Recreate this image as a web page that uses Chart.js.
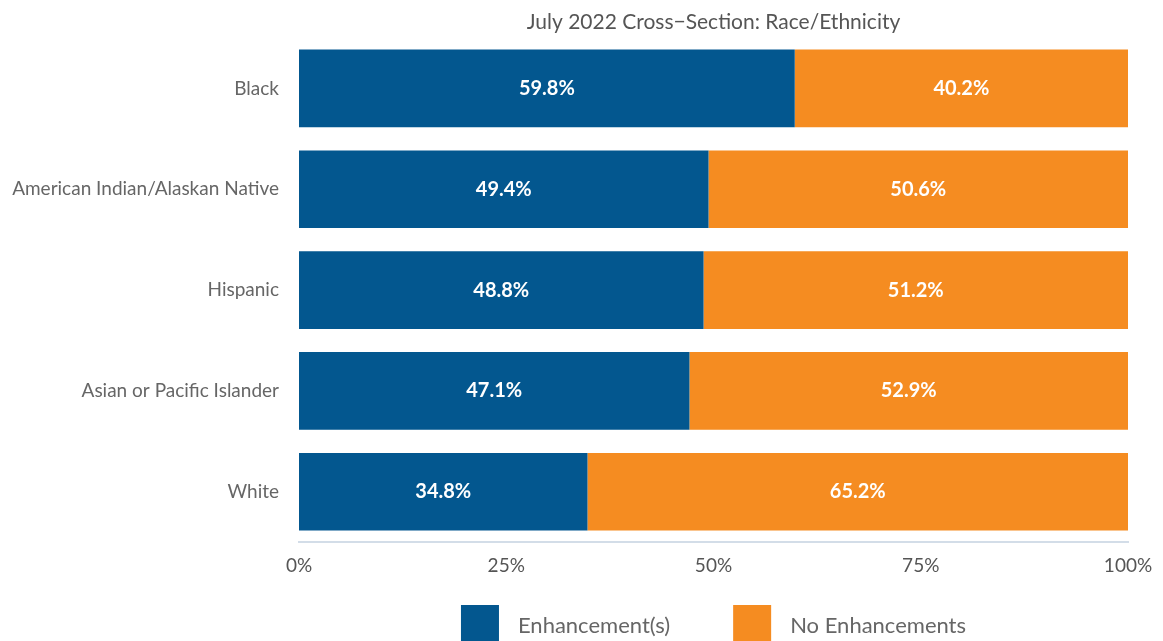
<!DOCTYPE html>
<html>
<head>
<meta charset="utf-8">
<script src="https://cdn.jsdelivr.net/npm/chart.js@4/dist/chart.umd.min.js"></script>
<style>
  html,body{margin:0;padding:0;background:#fff;}
  #wrap{width:1163px;height:641px;position:relative;}
</style>
</head>
<body>
<div id="wrap"><canvas id="grafico"></canvas></div>
<script>
const categorias = ["Black", "American Indian/Alaskan Native", "Hispanic", "Asian or Pacific Islander", "White"];
const comEnhancement = [59.8, 49.4, 48.8, 47.1, 34.8];
const semEnhancement = [40.2, 50.6, 51.2, 52.9, 65.2];
const titulo = "July 2022 Cross\u2212Section: Race/Ethnicity";

const AZUL = "#03578f";
const LARANJA = "#f58c21";
const FONTE = "Lato, 'Open Sans', sans-serif";

// rótulos dentro das barras
const rotulosBarras = {
    id: "rotulosBarras",
    afterDatasetsDraw(chart){
        const ctx = chart.ctx;
        ctx.save();
        ctx.fillStyle = "#ffffff";
        ctx.font = "bold 20px " + FONTE;
        ctx.textAlign = "center";
        ctx.textBaseline = "middle";
        chart.data.datasets.forEach((ds, i)=>{
            chart.getDatasetMeta(i).data.forEach((bar, j)=>{
                const cx = (bar.x + bar.base) / 2;
                ctx.fillText(ds.data[j].toFixed(1) + "%", cx, bar.y);
            });
        });
        ctx.restore();
    }
};

// título e legenda centrados na área do gráfico
const tituloLegenda = {
    id: "tituloLegenda",
    afterDraw(chart){
        const ctx = chart.ctx;
        const area = chart.chartArea;
        const meio = (area.left + area.right) / 2;
        ctx.save();
        ctx.fillStyle = "#555555";
        ctx.font = "21px " + FONTE;
        ctx.textAlign = "center";
        ctx.textBaseline = "middle";
        ctx.fillText(titulo, meio, 22);

        ctx.font = "22px " + FONTE;
        ctx.textAlign = "left";
        const caixa = 38, gapTexto = 19, gapItem = 63;
        const itens = chart.data.datasets.map(ds=>({ label: ds.label, cor: ds.backgroundColor, w: ctx.measureText(ds.label).width }));
        const total = itens.reduce((s, it)=>s + caixa + gapTexto + it.w, 0) + gapItem * (itens.length - 1);
        let x = meio - total / 2;
        const yTop = 605;
        itens.forEach(it=>{
            ctx.fillStyle = it.cor;
            ctx.fillRect(x, yTop, caixa, caixa);
            ctx.fillStyle = "#666666";
            ctx.fillText(it.label, x + caixa + gapTexto, 626);
            x += caixa + gapTexto + it.w + gapItem;
        });
        ctx.restore();
    }
};

new Chart(document.getElementById("grafico"), {
    type: "bar",
    data: {
        labels: categorias,
        datasets: [
            { label: "Enhancement(s)", data: comEnhancement, backgroundColor: AZUL, barPercentage: 0.77, categoryPercentage: 1.0 },
            { label: "No Enhancements", data: semEnhancement, backgroundColor: LARANJA, barPercentage: 0.77, categoryPercentage: 1.0 }
        ]
    },
    options: {
        indexAxis: "y",
        responsive: true,
        maintainAspectRatio: false,
        animation: false,
        layout: { padding: { top: 38, bottom: 52, right: 35, left: 0 } },
        plugins: {
            legend: { display: false },
            title: { display: false },
            tooltip: { enabled: false }
        },
        scales: {
            x: {
                stacked: true,
                min: 0, max: 100,
                afterFit: s=>{ s.paddingRight = 0; s.paddingLeft = 0; },
                ticks: { stepSize: 25, callback: v=>v + "%", color: "#555555", font: { family: FONTE, size: 19 }, padding: 12, maxRotation: 0 },
                grid: { display: false, drawTicks: false },
                border: { display: true, color: "#d3dde8", width: 2 }
            },
            y: {
                stacked: true,
                afterFit: s=>{ s.width = 299; },
                ticks: { color: "#666666", font: { family: FONTE, size: 19 }, padding: 20 },
                grid: { display: false, drawTicks: false },
                border: { display: false }
            }
        }
    },
    plugins: [rotulosBarras, tituloLegenda]
});
</script>
</body>
</html>
